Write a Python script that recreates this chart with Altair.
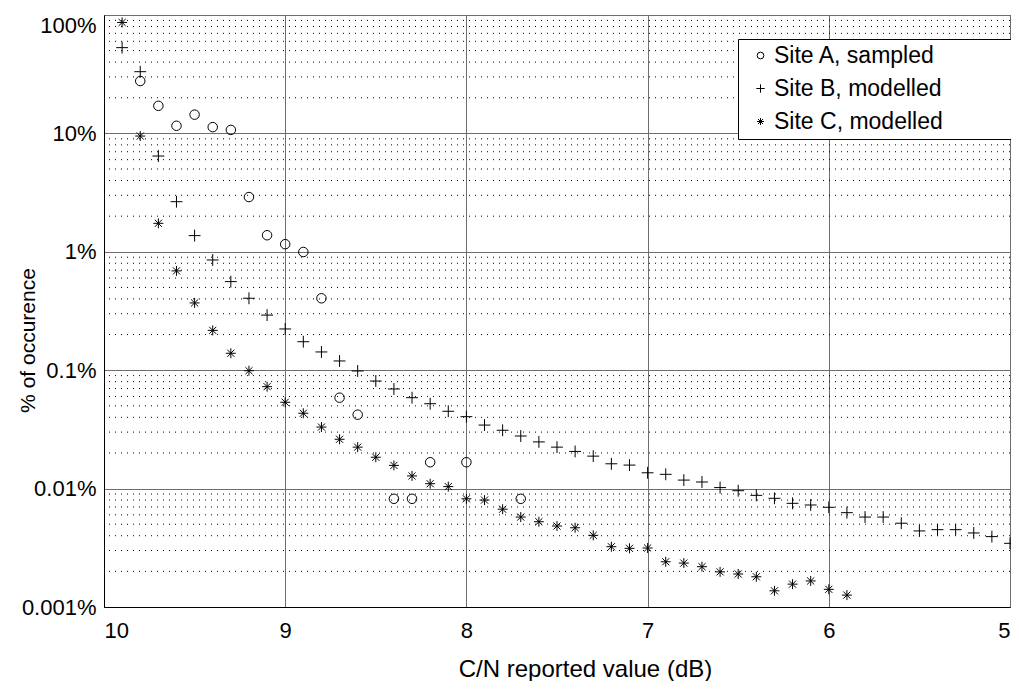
import altair as alt
import pandas as pd

# ---- data ----
x_a = [9.8, 9.7, 9.6, 9.5, 9.4, 9.3, 9.2, 9.1, 9.0, 8.9, 8.8, 8.7, 8.6, 8.4, 8.3, 8.2, 8.0, 7.7]
y_a = [27.7, 17.1, 11.6, 14.4, 11.3, 10.7, 2.9, 1.38, 1.16, 0.996, 0.405, 0.0586, 0.0421,
       0.0082, 0.0082, 0.0167, 0.0167, 0.0082]

x_b = [9.9, 9.8, 9.7, 9.6, 9.5, 9.4, 9.3, 9.2, 9.1, 9.0,
       8.9, 8.8, 8.7, 8.6, 8.5, 8.4, 8.3, 8.2, 8.1, 8.0,
       7.9, 7.8, 7.7, 7.6, 7.5, 7.4, 7.3, 7.2, 7.1, 7.0,
       6.9, 6.8, 6.7, 6.6, 6.5, 6.4, 6.3, 6.2, 6.1, 6.0,
       5.9, 5.8, 5.7, 5.6, 5.5, 5.4, 5.3, 5.2, 5.1, 5.0]
y_b = [53, 33.2, 6.44, 2.65, 1.37, 0.853, 0.56, 0.405, 0.292, 0.223,
       0.174, 0.1426, 0.1197, 0.0985, 0.081, 0.0694, 0.0586, 0.0521, 0.045, 0.0405,
       0.0344, 0.0311, 0.0278, 0.0248, 0.0224, 0.0206, 0.0188, 0.0162, 0.0158, 0.0136,
       0.0132, 0.0118, 0.01137, 0.0102, 0.0096, 0.00877, 0.00828, 0.00751, 0.00727, 0.00695,
       0.00626, 0.00575, 0.00575, 0.0051, 0.00439, 0.0045, 0.0045, 0.00422, 0.00393, 0.00345]

x_c = [9.9, 9.8, 9.7, 9.6, 9.5, 9.4, 9.3, 9.2, 9.1, 9.0,
       8.9, 8.8, 8.7, 8.6, 8.5, 8.4, 8.3, 8.2, 8.1, 8.0,
       7.9, 7.8, 7.7, 7.6, 7.5, 7.4, 7.3, 7.2, 7.1, 7.0,
       6.9, 6.8, 6.7, 6.6, 6.5, 6.4, 6.3, 6.2, 6.1, 6.0, 5.9]
y_c = [86.5, 9.5, 1.74, 0.69, 0.37, 0.217, 0.139, 0.099, 0.0726, 0.0536,
       0.0433, 0.0331, 0.0261, 0.0224, 0.0184, 0.0157, 0.0128, 0.0110, 0.0104, 0.0082,
       0.0080, 0.0067, 0.00575, 0.00525, 0.00483, 0.00467, 0.00403, 0.00323, 0.00313, 0.00315,
       0.00241, 0.00235, 0.00219, 0.00198, 0.0019, 0.0018, 0.00137, 0.00156, 0.00166, 0.00141,
       0.00126]

series = ["Site A, sampled", "Site B, modelled", "Site C, modelled"]

x_ticks = [10, 9, 8, 7, 6, 5]
y_major = [0.001, 0.01, 0.1, 1, 10, 100]
y_minor = [m * d for d in [0.001, 0.01, 0.1, 1, 10] for m in range(2, 10)]

df = pd.concat([
    pd.DataFrame({"x": x_a, "y": y_a, "series": series[0]}),
    pd.DataFrame({"x": x_b, "y": y_b, "series": series[1]}),
    pd.DataFrame({"x": x_c, "y": y_c, "series": series[2]}),
])
minor_df = pd.DataFrame({"y": y_minor})

FONT = "Liberation Sans"
FS = 22
circle_path = "circle"
plus_path = "M-1.25,0L1.25,0M0,-1.25L0,1.25"
star_path = "M-1.05,0L1.05,0M0,-1.05L0,1.05M-0.75,-0.75L0.75,0.75M-0.75,0.75L0.75,-0.75"
# em spaces kept from trimming by a final blank glyph, to widen the legend box
pad = "\u2003\u2003\u2800"

xscale = alt.Scale(domain=[10, 5], nice=False, zero=False)
yscale = alt.Scale(type="log", domain=[0.001, 100], nice=False)

minor = alt.Chart(minor_df).mark_rule(
    color="black", strokeWidth=1, strokeDash=[1, 5]
).encode(
    y=alt.Y("y:Q", scale=yscale),
)

points = alt.Chart(df).mark_point(
    filled=False, color="black", strokeWidth=1, opacity=1, size=90
).encode(
    x=alt.X("x:Q", scale=xscale,
            axis=alt.Axis(values=x_ticks, title="C/N reported value (dB)", grid=True,
                          gridColor="#6e6e6e", gridWidth=1, ticks=False,
                          labelPadding=13, format="d", titleFontSize=24,
                          titleX=481, titleY=69, titleBaseline="alphabetic")),
    y=alt.Y("y:Q", scale=yscale,
            axis=alt.Axis(values=y_major, title="% of occurence", grid=True,
                          gridColor="#6e6e6e", gridWidth=1, ticks=False,
                          labelPadding=8, titleFontSize=21,
                          labelBaseline=alt.condition("datum.value >= 100",
                                                      alt.value("top"), alt.value("middle")),
                          labelExpr="format(datum.value, '~r') + '%'",
                          titleX=-76, titleY=325, titleBaseline="middle")),
    shape=alt.Shape("series:N",
                    scale=alt.Scale(domain=series, range=[circle_path, plus_path, star_path]),
                    legend=alt.Legend(title="", orient="none", legendX=634, legendY=24,
                                      labelFontSize=23, symbolSize=45,
                                      fillColor="white", strokeColor="black", padding=5,
                                      symbolStrokeColor="black", symbolStrokeWidth=1,
                                      rowPadding=9, labelOffset=2, symbolOffset=6,
                                      labelLimit=400,
                                      labelExpr="datum.label + '" + pad + "'")),
)

chart = alt.layer(minor, points).properties(
    width=906, height=592,
    autosize=alt.AutoSizeParams(type="none"),
    padding={"left": 96, "top": 7, "right": 1, "bottom": 74},
).configure_view(
    stroke="black", strokeWidth=1
).configure_axis(
    labelFont=FONT, titleFont=FONT, labelFontSize=FS,
    titleFontWeight="normal", labelColor="black", titleColor="black",
    domainColor="black", domainWidth=1
).configure_legend(
    labelColor="black", labelFont=FONT
)

chart.save("out.html", embed_options={"renderer": "svg", "actions": False})
